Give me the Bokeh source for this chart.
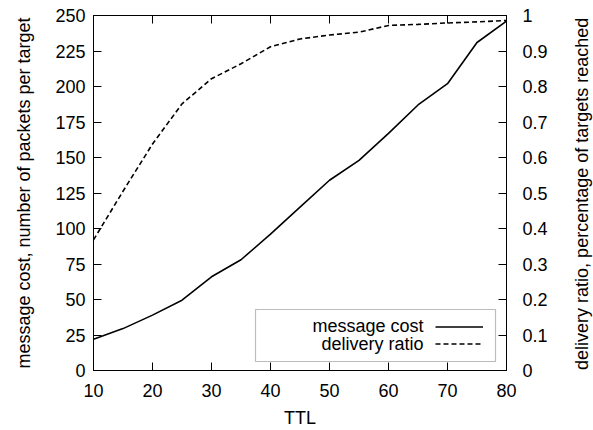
import math
from bokeh.plotting import figure
from bokeh.layouts import row
from bokeh.models import (LinearAxis, Range1d, FixedTicker, Legend, LegendItem,
                          BoxAnnotation, Label)
from bokeh.embed import file_html
from bokeh.resources import INLINE

ttl = [10, 15, 20, 25, 30, 35, 40, 45, 50, 55, 60, 65, 70, 75, 80]
message_cost = [22, 29.5, 39, 49.5, 66, 78, 96, 115, 134, 148, 167, 187, 202, 231, 246]
delivery_ratio = [0.368, 0.505, 0.638, 0.751, 0.822, 0.864, 0.912, 0.934, 0.945,
                  0.953, 0.972, 0.975, 0.979, 0.982, 0.986]

x_ticks = [10, 20, 30, 40, 50, 60, 70, 80]
left_ticks = [0, 25, 50, 75, 100, 125, 150, 175, 200, 225, 250]
right_ticks = [0, 0.1, 0.2, 0.3, 0.4, 0.5, 0.6, 0.7, 0.8, 0.9, 1.0]
right_tick_labels = ["0", "0.1", "0.2", "0.3", "0.4", "0.5", "0.6", "0.7", "0.8", "0.9", "1"]
legend_labels = ["message cost", "delivery ratio"]
x_label = "TTL"
left_label = "message cost, number of packets per target"
right_label = "delivery ratio, percentage of targets reached"

FONT = "Liberation Sans"
FS = "18px"

p = figure(width=560, height=430, output_backend="svg", toolbar_location=None,
           x_range=Range1d(10, 80), y_range=Range1d(0, 250),
           min_border_left=93, min_border_right=54, min_border_top=15, min_border_bottom=60)
p.extra_y_ranges = {"ratio": Range1d(0, 1)}
p.grid.visible = False
p.outline_line_color = "black"
p.outline_line_width = 1
p.background_fill_color = "white"
p.border_fill_color = "white"


def style(ax, labels=True):
    ax.major_tick_in = 8
    ax.major_tick_out = 0
    ax.minor_tick_in = 0
    ax.minor_tick_out = 0
    ax.axis_line_color = "black"
    ax.major_tick_line_color = "black"
    ax.major_label_text_font = FONT
    ax.major_label_text_font_size = FS if labels else "0px"
    ax.major_label_text_color = "black" if labels else None
    ax.axis_label_text_font = FONT
    ax.axis_label_text_font_size = FS
    ax.axis_label_text_font_style = "normal"
    ax.axis_label_text_color = "black"


xa = p.xaxis[0]
xa.ticker = FixedTicker(ticks=x_ticks)
xa.axis_label = x_label
style(xa)
xa.major_label_standoff = 13
xa.axis_label_standoff = 8

ya = p.yaxis[0]
ya.ticker = FixedTicker(ticks=left_ticks)
ya.axis_label = left_label
style(ya)
ya.major_label_standoff = 8
ya.axis_label_standoff = 18

top = LinearAxis(ticker=FixedTicker(ticks=x_ticks))
style(top, labels=False)
top.major_label_standoff = 0
p.add_layout(top, "above")

ra = LinearAxis(y_range_name="ratio", ticker=FixedTicker(ticks=right_ticks))
style(ra)
ra.major_label_overrides = {t: s for t, s in zip(right_ticks, right_tick_labels)}
ra.major_label_standoff = 16
p.add_layout(ra, "right")

r_cost = p.line(ttl, message_cost, line_color="black", line_width=1.6)
r_ratio = p.line(ttl, delivery_ratio, y_range_name="ratio", line_color="black",
                 line_width=1.6, line_dash="5 3")

box = BoxAnnotation(left=162, right=402, bottom=9, top=61,
                    left_units="screen", right_units="screen",
                    bottom_units="screen", top_units="screen",
                    fill_color="white", fill_alpha=1.0,
                    line_color="#222222", line_width=1.2)
p.add_layout(box)

for txt, yy in zip(legend_labels, [45, 27]):
    p.add_layout(Label(x=330, y=yy, x_units="screen", y_units="screen", text=txt,
                       text_align="right", text_baseline="middle",
                       text_font=FONT, text_font_size=FS, text_color="black"))

leg = Legend(items=[LegendItem(label=" ", renderers=[r_cost]),
                    LegendItem(label=" ", renderers=[r_ratio])],
             location=(342, 18), glyph_width=48, glyph_height=17,
             label_width=0, label_height=0, label_standoff=0,
             label_text_font_size="1px", label_text_color=None,
             padding=0, spacing=0, margin=0,
             border_line_alpha=0, background_fill_alpha=0)
p.add_layout(leg)

# right-hand axis title (reads bottom-to-top), drawn in a narrow strip beside the plot
p2 = figure(width=33, height=430, output_backend="svg", toolbar_location=None,
            x_range=Range1d(0, 33), y_range=Range1d(0, 430),
            x_axis_location=None, y_axis_location=None,
            min_border_left=0, min_border_right=0, min_border_top=0, min_border_bottom=0)
p2.grid.visible = False
p2.outline_line_color = None
p2.background_fill_color = "white"
p2.border_fill_color = "white"
p2.add_layout(Label(x=21, y=214, text=right_label,
                    angle=math.pi / 2, text_align="center", text_baseline="middle",
                    text_font=FONT, text_font_size=FS, text_color="black"))

layout = row(p, p2, spacing=0)
open("out.html", "w").write(file_html(layout, INLINE))
